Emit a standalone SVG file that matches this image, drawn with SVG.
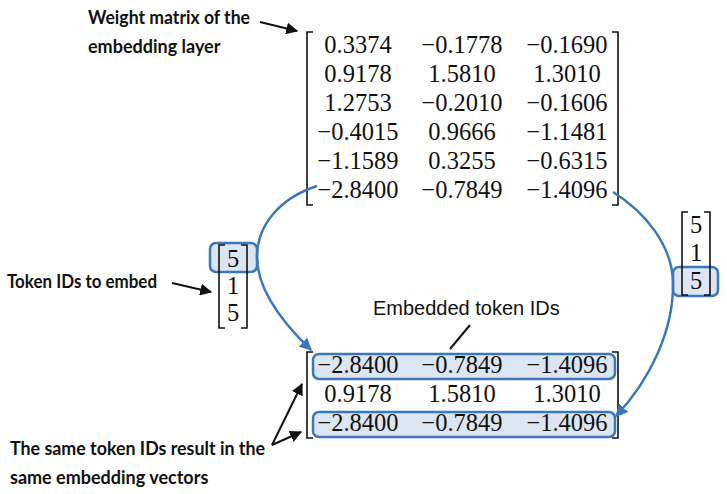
<svg xmlns="http://www.w3.org/2000/svg" width="727" height="494" viewBox="0 0 727 494">
<defs>
<style>
.num{font-family:"Liberation Serif","Times New Roman",serif;font-size:24.5px;fill:#111;text-anchor:middle}
.lbl{font-family:Lato,"Open Sans",sans-serif;font-weight:700;font-size:18px;fill:#111}
.sans{font-family:"Liberation Sans",Arial,sans-serif;font-size:20px;fill:#111}
.br{fill:none;stroke:#111;stroke-width:1.6}
.hl{fill:#dce6f2;stroke:#3a78b8;stroke-width:2.5}
.blue{fill:none;stroke:#3a78b8;stroke-width:2.5}
.blk{fill:none;stroke:#111;stroke-width:2}
</style>
<marker id="ab" viewBox="0 0 10 10" refX="9" refY="5" markerWidth="5" markerHeight="5" orient="auto" markerUnits="strokeWidth"><path d="M0,0 L10,5 L0,10 z" fill="#3a78b8"/></marker>
<marker id="ak" viewBox="0 0 10 10" refX="9" refY="5" markerWidth="6" markerHeight="6" orient="auto" markerUnits="strokeWidth"><path d="M0,0 L10,5 L0,10 z" fill="#111"/></marker>
</defs>

<g id="weight-matrix">
<path class="br" d="M313,32 H307 V205 H313"/>
<path class="br" d="M612,32 H618 V205 H612"/>
<text class="num" x="358" y="53">0.3374</text><text class="num" x="462" y="53">−0.1778</text><text class="num" x="567" y="53">−0.1690</text>
<text class="num" x="358" y="82">0.9178</text><text class="num" x="462" y="82">1.5810</text><text class="num" x="567" y="82">1.3010</text>
<text class="num" x="358" y="111">1.2753</text><text class="num" x="462" y="111">−0.2010</text><text class="num" x="567" y="111">−0.1606</text>
<text class="num" x="358" y="140">−0.4015</text><text class="num" x="462" y="140">0.9666</text><text class="num" x="567" y="140">−1.1481</text>
<text class="num" x="358" y="169">−1.1589</text><text class="num" x="462" y="169">0.3255</text><text class="num" x="567" y="169">−0.6315</text>
<text class="num" x="358" y="198">−2.8400</text><text class="num" x="462" y="198">−0.7849</text><text class="num" x="567" y="198">−1.4096</text>
</g>

<g id="token-ids-left">
<rect class="hl" x="210" y="243" width="47" height="29" rx="6"/>
<path class="br" d="M225,245 H219 V328 H225"/>
<path class="br" d="M241,245 H247 V328 H241"/>
<text class="num" x="233" y="267">5</text>
<text class="num" x="233" y="294">1</text>
<text class="num" x="233" y="321">5</text>
</g>

<g id="token-ids-right">
<rect class="hl" x="673" y="267" width="45" height="29" rx="6"/>
<path class="br" d="M688,212 H682 V295 H688"/>
<path class="br" d="M704,212 H710 V295 H704"/>
<text class="num" x="696" y="233">5</text>
<text class="num" x="696" y="261">1</text>
<text class="num" x="696" y="289">5</text>
</g>

<g id="embedded-matrix">
<rect class="hl" x="313" y="354" width="302" height="25" rx="6"/>
<rect class="hl" x="313" y="412" width="302" height="25" rx="6"/>
<path class="br" d="M313,352 H307 V438 H313"/>
<path class="br" d="M612,352 H618 V438 H612"/>
<text class="num" x="358" y="373">−2.8400</text><text class="num" x="462" y="373">−0.7849</text><text class="num" x="567" y="373">−1.4096</text>
<text class="num" x="358" y="402">0.9178</text><text class="num" x="462" y="402">1.5810</text><text class="num" x="567" y="402">1.3010</text>
<text class="num" x="358" y="431">−2.8400</text><text class="num" x="462" y="431">−0.7849</text><text class="num" x="567" y="431">−1.4096</text>
</g>

<g id="label-weight">
<text class="lbl" x="88" y="24" textLength="162" lengthAdjust="spacingAndGlyphs">Weight matrix of the</text>
<text class="lbl" x="88" y="53">embedding layer</text>
</g>
<g id="label-token">
<text class="lbl" x="7" y="288" textLength="150" lengthAdjust="spacingAndGlyphs">Token IDs to embed</text>
</g>
<g id="label-same">
<text class="lbl" x="10" y="455" textLength="255" lengthAdjust="spacingAndGlyphs">The same token IDs result in the</text>
<text class="lbl" x="10" y="484">same embedding vectors</text>
</g>
<g id="label-embedded">
<text class="sans" x="373" y="315">Embedded token IDs</text>
</g>

<g id="connectors">
<path class="blue" d="M317,186 C280,198 257,225 257,257 C257,292 285,325 311,350" marker-end="url(#ab)"/>
<path class="blue" d="M613,192 C645,212 672,245 673,282 C674,330 650,380 616,416" marker-end="url(#ab)"/>
<path class="blk" d="M260,22 L297,31" marker-end="url(#ak)"/>
<path class="blk" d="M172,283 L211,292" marker-end="url(#ak)"/>
<path class="blk" d="M470,325 L450,349"/>
<path class="blk" d="M272,445 L302,384" marker-end="url(#ak)"/>
<path class="blk" d="M272,445 L301,432" marker-end="url(#ak)"/>
</g>
</svg>
